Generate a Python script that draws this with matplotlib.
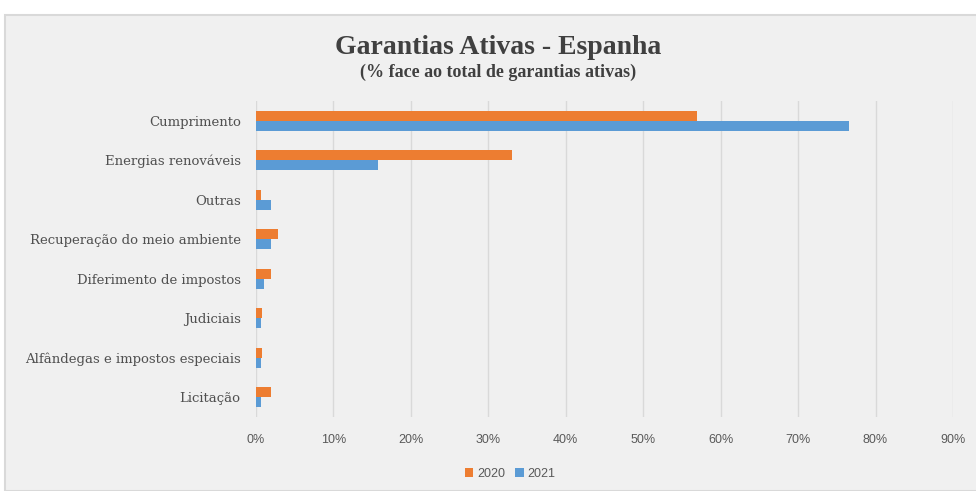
import numpy as np
import matplotlib
matplotlib.use('Agg')
import matplotlib.pyplot as plt
from matplotlib.patches import Rectangle
from matplotlib.ticker import PercentFormatter

categories = ['Cumprimento', 'Energias renováveis', 'Outras',
              'Recuperação do meio ambiente', 'Diferimento de impostos',
              'Judiciais', 'Alfândegas e impostos especiais', 'Licitação']
values_2020 = [57.0, 33.0, 0.7, 2.9, 2.0, 0.75, 0.75, 2.0]
values_2021 = [76.6, 15.8, 2.0, 2.0, 1.0, 0.7, 0.6, 0.6]

orange = '#ED7D31'
blue = '#5B9BD5'
bg = '#F0F0F0'

fig = plt.figure(figsize=(9.76, 4.91), dpi=100)
fig.patch.set_facecolor('white')

# gray chart panel behind everything
fig.patches.append(Rectangle((5 / 976, 0), 1, 1 - 15 / 491, transform=fig.transFigure,
                             facecolor=bg, edgecolor='#D9D9D9', linewidth=1.5, zorder=-10))

ax = fig.add_axes([256 / 976, (491 - 417) / 491, 697 / 976, 316 / 491])
ax.set_facecolor(bg)

y = np.arange(len(categories))
h = 0.25
ax.barh(y - h / 2, values_2020, height=h, color=orange, label='2020', zorder=3)
ax.barh(y + h / 2, values_2021, height=h, color=blue, label='2021', zorder=3)

ax.set_ylim(len(categories) - 0.5, -0.5)
ax.set_xlim(0, 90)
ax.set_xticks(np.arange(0, 91, 10))
ax.xaxis.set_major_formatter(PercentFormatter(decimals=0))
ax.set_yticks(y)
ax.set_yticklabels(categories, family='DejaVu Serif', fontsize=9.5, color='#505050')
ax.tick_params(axis='x', labelsize=9, colors='#595959', length=0, pad=12)
ax.tick_params(axis='y', length=0, pad=11)
for lab in ax.get_xticklabels():
    lab.set_family(['Liberation Sans Narrow', 'Liberation Sans'])
ax.grid(axis='x', color='#D9D9D9', linewidth=1, zorder=0)
for s in ax.spines.values():
    s.set_visible(False)

fig.text(0.5 + 10 / 976, 1 - 47 / 491, 'Garantias Ativas - Espanha', ha='center', va='center',
         family='Liberation Serif', fontweight='bold', fontsize=20, color='#404040')
fig.text(0.5 + 10 / 976, 1 - 72 / 491, '(% face ao total de garantias ativas)', ha='center',
         va='center', family='Liberation Serif', fontweight='bold', fontsize=13, color='#404040')

leg = fig.legend(*ax.get_legend_handles_labels(), loc='center',
                 bbox_to_anchor=(510 / 976, 1 - 474 / 491), ncol=2, frameon=False,
                 fontsize=9, handlelength=0.7, handleheight=0.7, handletextpad=0.3,
                 columnspacing=0.8)
for t in leg.get_texts():
    t.set_color('#595959')
    t.set_family(['Liberation Sans Narrow', 'Liberation Sans'])

fig.savefig('out.png', dpi=100, facecolor=fig.get_facecolor())
